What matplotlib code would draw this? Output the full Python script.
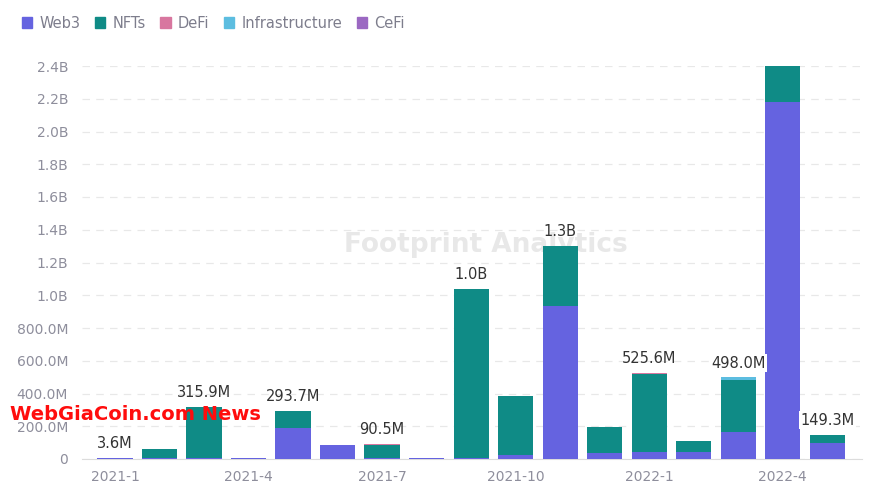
import matplotlib
matplotlib.use('Agg')
import matplotlib.pyplot as plt
from matplotlib.patches import Patch
import numpy as np

# values in millions
months = ['2021-1', '2021-2', '2021-3', '2021-4', '2021-5', '2021-6', '2021-7', '2021-8', '2021-9',
          '2021-10', '2021-11', '2021-12', '2022-1', '2022-2', '2022-3', '2022-4', '2022-5']
web3 = [3.6, 8, 7, 8, 187, 85, 6, 8, 5, 23, 935, 35, 41, 41, 165, 2182, 96]
nfts = [0, 51, 308.9, 0, 106.7, 2, 82.5, 0, 1031, 362, 368, 159, 479.6, 69, 318, 220, 53.3]
defi = [0, 0, 0, 0, 0, 0, 2, 0, 0, 0, 0, 0, 5, 0, 0, 10, 0]
infra = [0, 0, 0, 0, 0, 0, 0, 0, 0, 0, 0, 0, 0, 0, 15, 0, 0]
cefi = [0] * 17
labelled = [0, 2, 4, 6, 8, 10, 12, 14, 16]
xtick_idx = [0, 3, 6, 9, 12, 15]

names = ['Web3', 'NFTs', 'DeFi', 'Infrastructure', 'CeFi']
colors = ['#6563e0', '#0f8b86', '#d8769f', '#5cbde0', '#9b68c2']
series = [web3, nfts, defi, infra, cefi]

def fmt(v):
    if v >= 1000:
        return '{:.1f}B'.format(v / 1000)
    return '{:.1f}M'.format(v)

fig = plt.figure(figsize=(8.83, 4.93), dpi=100)
ax = fig.add_axes([82 / 883, 1 - 459 / 493, 780 / 883, (459 - 66) / 493])

x = np.arange(len(months))
bottom = np.zeros(len(months))
for name, col, vals in zip(names, colors, series):
    vals = np.array(vals, dtype=float)
    ax.bar(x, vals, 0.79, bottom=bottom, color=col, linewidth=0, zorder=3)
    bottom += vals

for i in labelled:
    ax.annotate(fmt(bottom[i]), (x[i], bottom[i]), xytext=(0, 5), textcoords='offset points',
                ha='center', va='bottom', fontsize=10.5, color='#333333', zorder=5,
                bbox=dict(boxstyle='square,pad=0.1', fc='white', ec='none') if i in (14, 16) else None)

ax.set_xlim(-0.74, 16.78)
ax.set_ylim(0, 2400)
yt = np.arange(0, 2401, 200)
ax.set_yticks(yt)
ax.set_yticklabels(['0'] + [fmt(v) for v in yt[1:]])
ax.set_xticks(xtick_idx)
ax.set_xticklabels([months[i] for i in xtick_idx])
ax.tick_params(axis='both', length=0, labelsize=10, colors='#8e8e9c')
ax.tick_params(axis='y', pad=10)
ax.tick_params(axis='x', pad=8)
ax.grid(axis='y', color='#e8e8e8', linestyle=(0, (6, 5)), linewidth=0.9, zorder=0)
for s in ['top', 'right', 'left']:
    ax.spines[s].set_visible(False)
ax.spines['bottom'].set_color('#dcdcdc')

# watermarks
ax.text(0.518, 0.545, 'Footprint Analytics', transform=ax.transAxes, ha='center', va='center',
        fontsize=19, fontweight='bold', color='#e8e8e8', zorder=1)
fig.text(0.011, 0.16, 'WebGiaCoin.com News', ha='left', va='center', fontsize=14,
         fontweight='bold', color='#ff0d0d', zorder=10)

handles = [Patch(color=c, label=n) for n, c in zip(names, colors)]
fig.legend(handles=handles, loc='upper left', bbox_to_anchor=(0.01, 0.995), ncol=5, frameon=False,
           handlelength=0.7, handleheight=0.7, handletextpad=0.5, columnspacing=1.0,
           fontsize=10.5, labelcolor='#7d7d8c')

fig.savefig('out.png', dpi=100)
